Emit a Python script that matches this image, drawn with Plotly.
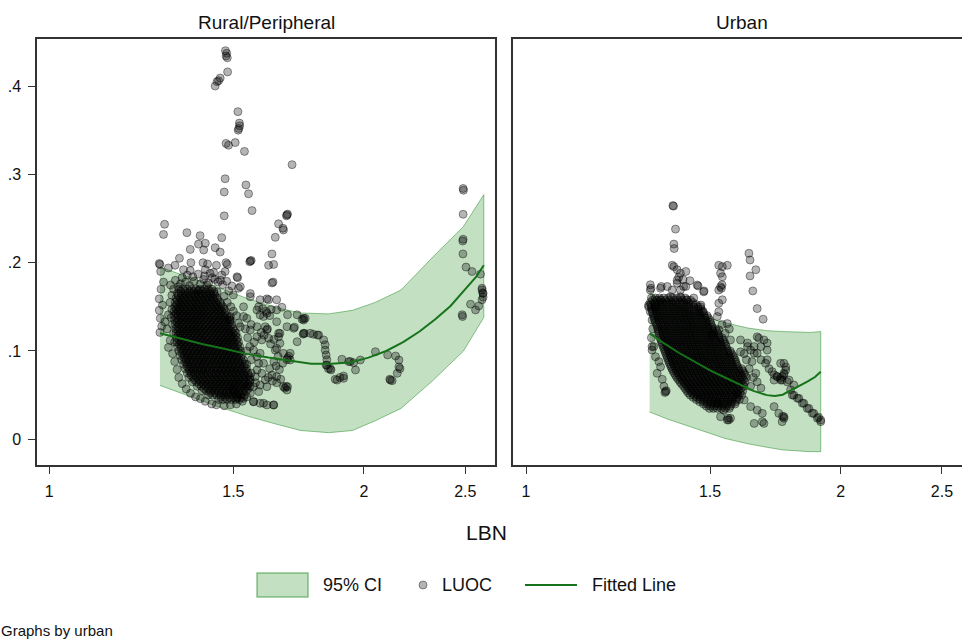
import plotly.graph_objects as go

W, H = 962, 642
FONT = "Liberation Sans, Arial, sans-serif"

# ---------------- data ----------------
x_tick_vals = [1, 1.5, 2, 2.5]
x_tick_text = ["1", "1.5", "2", "2.5"]
y_tick_vals = [0, 0.1, 0.2, 0.3, 0.4]
y_tick_text = ["0", ".1", ".2", ".3", ".4"]
panel_titles = ["Rural/Peripheral", "Urban"]
legend_labels = ["95% CI", "LUOC", "Fitted Line"]

# Rural / Peripheral: 95% CI band and fitted line
rural_band_lbn = [1.276, 1.35, 1.45, 1.55, 1.65, 1.74, 1.85, 1.95, 2.05, 2.17, 2.33, 2.49, 2.604]
rural_band_upper = [0.195, 0.185, 0.172, 0.159, 0.149, 0.143, 0.142, 0.146, 0.155, 0.169, 0.207, 0.241, 0.277]
rural_band_lower = [0.061, 0.050, 0.037, 0.026, 0.017, 0.010, 0.0075, 0.010, 0.021, 0.035, 0.067, 0.100, 0.138]
rural_fit_lbn = [1.276, 1.33, 1.40, 1.47, 1.54, 1.62, 1.70, 1.78, 1.86, 1.94, 2.02, 2.10, 2.18, 2.26, 2.34, 2.42, 2.50, 2.56, 2.604]
rural_fit_luoc = [0.120, 0.1145, 0.108, 0.1025, 0.097, 0.0925, 0.0885, 0.0855, 0.0855, 0.087, 0.0925, 0.100, 0.110, 0.122, 0.136, 0.151, 0.170, 0.184, 0.197]

# Urban: 95% CI band and fitted line
urban_band_lbn = [1.313, 1.365, 1.42, 1.47, 1.55, 1.63, 1.70, 1.76, 1.82, 1.87, 1.914]
urban_band_upper = [0.165, 0.156, 0.147, 0.140, 0.132, 0.126, 0.123, 0.122, 0.121, 0.121, 0.122]
urban_band_lower = [0.031, 0.023, 0.016, 0.010, 0.001, -0.005, -0.009, -0.012, -0.013, -0.014, -0.014]
urban_fit_lbn = [1.313, 1.35, 1.40, 1.45, 1.50, 1.55, 1.60, 1.65, 1.70, 1.73, 1.76, 1.79, 1.83, 1.86, 1.89, 1.914]
urban_fit_luoc = [0.120, 0.110, 0.098, 0.0875, 0.078, 0.070, 0.0625, 0.0548, 0.0500, 0.0490, 0.0505, 0.0550, 0.0610, 0.0655, 0.0705, 0.0766]

# Rural / Peripheral LUOC points (LBN, LUOC) - scattered points
rural_sparse = [
    (1.474, 0.440), (1.478, 0.437), (1.476, 0.434), (1.480, 0.432), (1.481, 0.416),
    (1.457, 0.409), (1.452, 0.406), (1.447, 0.405), (1.441, 0.400), (1.515, 0.371),
    (1.520, 0.358), (1.521, 0.355), (1.518, 0.352), (1.516, 0.350),
    (1.476, 0.335), (1.484, 0.333), (1.506, 0.336), (1.537, 0.326), (1.707, 0.311),
    (1.473, 0.295), (1.542, 0.288), (1.470, 0.280), (1.551, 0.278), (1.563, 0.259), (1.470, 0.253),
    (1.688, 0.254), (1.686, 0.253), (1.690, 0.255), (1.657, 0.244), (1.673, 0.239), (1.675, 0.237),
    (1.289, 0.2435), (1.286, 0.232), (1.354, 0.234), (1.394, 0.2306), (1.462, 0.2283), (1.645, 0.2287),
    (1.389, 0.221), (1.410, 0.222), (1.364, 0.215), (1.405, 0.2144), (1.441, 0.217), (1.457, 0.212),
    (1.633, 0.2099), (1.557, 0.2019), (1.560, 0.2025), (1.555, 0.201), (1.332, 0.205), (1.319, 0.197),
    (1.366, 0.200), (1.300, 0.194), (1.276, 0.198), (1.403, 0.200), (1.417, 0.1985), (1.445, 0.197),
    (1.476, 0.200), (1.480, 0.198), (1.621, 0.197), (1.639, 0.198), (1.344, 0.192), (1.364, 0.191),
    (1.410, 0.192), (1.436, 0.189), (1.462, 0.186), (1.473, 0.190), (1.514, 0.183), (1.512, 0.184),
    (1.633, 0.177), (1.637, 0.178), (1.495, 0.1736), (1.523, 0.1728), (1.615, 0.159), (1.650, 0.158),
    (1.621, 0.158), (1.669, 0.1495), (1.690, 0.141),
    (1.306, 0.1747), (1.329, 0.1728), (1.389, 0.169), (1.415, 0.1747), (1.447, 0.167), (1.500, 0.1634),
    (1.517, 0.171), (1.557, 0.1615), (1.591, 0.158), (1.534, 0.150), (1.580, 0.1465), (1.615, 0.1427),
    (1.650, 0.1465), (1.726, 0.141), (1.757, 0.137),
    (1.274, 0.199), (1.278, 0.190), (1.286, 0.178), (1.279, 0.170), (1.274, 0.159), (1.283, 0.152),
    (1.274, 0.146), (1.277, 0.137), (1.281, 0.128), (1.276, 0.121), (1.290, 0.133), (1.300, 0.141),
    (1.296, 0.125), (1.305, 0.112), (1.300, 0.104), (1.312, 0.097), (1.318, 0.088), (1.325, 0.079),
    (1.330, 0.070), (1.340, 0.063), (1.352, 0.057), (1.365, 0.052), (1.380, 0.048), (1.395, 0.046),
    (1.410, 0.043), (1.430, 0.040), (1.445, 0.039), (1.470, 0.038), (1.490, 0.039), (1.510, 0.040),
    (1.530, 0.043), (1.545, 0.048),
    (1.335, 0.176), (1.350, 0.178), (1.362, 0.174), (1.376, 0.179), (1.395, 0.176), (1.405, 0.181),
    (1.420, 0.177), (1.432, 0.183), (1.450, 0.178), (1.465, 0.175), (1.340, 0.183), (1.355, 0.186),
    (1.372, 0.184), (1.388, 0.187), (1.408, 0.185), (1.425, 0.188), (1.440, 0.181), (1.458, 0.180),
    (1.478, 0.179), (1.485, 0.168), (1.470, 0.162), (1.480, 0.155), (1.492, 0.150), (1.500, 0.145),
    (1.510, 0.140), (1.320, 0.180), (1.315, 0.170), (1.310, 0.163), (1.305, 0.155), (1.310, 0.147),
    (1.308, 0.138), (1.312, 0.130), (1.315, 0.120), (1.318, 0.110),
    (1.490, 0.1389), (1.517, 0.1314), (1.545, 0.137), (1.557, 0.1238), (1.591, 0.1408), (1.580, 0.1162),
    (1.609, 0.1275), (1.621, 0.1144), (1.650, 0.1332), (1.657, 0.120), (1.662, 0.1087), (1.688, 0.1275),
    (1.713, 0.1257), (1.751, 0.137), (1.751, 0.120), (1.726, 0.1105), (1.675, 0.0974), (1.700, 0.0898),
    (1.591, 0.0974), (1.603, 0.086), (1.580, 0.0785), (1.557, 0.0672), (1.591, 0.0615), (1.615, 0.0596),
    (1.650, 0.0709), (1.675, 0.0596), (1.688, 0.0558), (1.557, 0.0521), (1.534, 0.0464), (1.568, 0.0426),
    (1.603, 0.0408), (1.639, 0.0389), (1.633, 0.0728), (1.500, 0.0558), (1.512, 0.0464),
    (1.568, 0.101), (1.580, 0.0935), (1.586, 0.086), (1.574, 0.0709), (1.597, 0.0747), (1.609, 0.0672),
    (1.568, 0.0596), (1.586, 0.054), (1.557, 0.165), (1.586, 0.150), (1.603, 0.139), (1.580, 0.1275),
    (1.615, 0.1238), (1.597, 0.1125), (1.534, 0.139), (1.523, 0.1275), (1.490, 0.135),
    (1.639, 0.0389), (1.615, 0.0389), (1.591, 0.0408), (1.568, 0.0426),
    (1.600, 0.148), (1.612, 0.145), (1.625, 0.140), (1.630, 0.147), (1.595, 0.121), (1.605, 0.118),
    (1.617, 0.125), (1.640, 0.113), (1.628, 0.108), (1.645, 0.101), (1.655, 0.094), (1.640, 0.088),
    (1.625, 0.080), (1.648, 0.083), (1.660, 0.079), (1.672, 0.086), (1.665, 0.068), (1.650, 0.064),
    (1.635, 0.066), (1.620, 0.070), (1.545, 0.060), (1.575, 0.064), (1.560, 0.090), (1.570, 0.110),
    (1.555, 0.105), (1.548, 0.115), (1.540, 0.125), (1.560, 0.130), (1.545, 0.100), (1.545, 0.085),
    (1.560, 0.075),
    (1.700, 0.0974), (1.690, 0.092), (1.695, 0.094), (1.688, 0.090), (1.680, 0.058), (1.690, 0.0595),
    (1.685, 0.060), (1.662, 0.120), (1.657, 0.116), (1.650, 0.103),
    (1.745, 0.136), (1.716, 0.127), (1.751, 0.135), (1.749, 0.119), (1.776, 0.120), (1.805, 0.118),
    (1.754, 0.120), (1.789, 0.119), (1.810, 0.118),
    (1.830, 0.1125), (1.836, 0.107), (1.836, 0.101), (1.840, 0.0955), (1.843, 0.090), (1.840, 0.084),
    (1.849, 0.080), (1.860, 0.0785), (1.857, 0.080), (1.843, 0.084),
    (1.877, 0.068), (1.885, 0.067), (1.897, 0.070), (1.912, 0.0717), (1.912, 0.069),
    (1.905, 0.0906), (1.934, 0.088), (1.955, 0.0868), (1.984, 0.0898), (1.963, 0.0785), (1.941, 0.088),
    (2.051, 0.0992), (2.107, 0.0955), (2.144, 0.0943), (2.160, 0.0898), (2.165, 0.080), (2.152, 0.0747),
    (2.117, 0.068), (2.120, 0.067), (2.128, 0.0664), (2.160, 0.082),
    (2.483, 0.141), (2.485, 0.139), (2.529, 0.153), (2.557, 0.1465), (2.575, 0.151), (2.594, 0.158),
    (2.600, 0.165), (2.594, 0.169), (2.488, 0.284), (2.490, 0.282), (2.488, 0.2548), (2.488, 0.2265),
    (2.486, 0.2245), (2.487, 0.2099), (2.504, 0.195), (2.537, 0.190), (2.585, 0.187), (2.594, 0.171),
    (2.600, 0.161), (2.598, 0.166),
]

# Rural / Peripheral LUOC points - dense cluster, rows of (LUOC, [LBN ...])
rural_dense_rows = [
    (0.170, [1.330, 1.342, 1.356, 1.368, 1.381, 1.393, 1.407, 1.419, 1.431]),
    (0.165, [1.326, 1.337, 1.350, 1.362, 1.375, 1.388, 1.400, 1.413, 1.425, 1.438]),
    (0.160, [1.322, 1.334, 1.346, 1.359, 1.371, 1.383, 1.396, 1.409, 1.421, 1.434, 1.447]),
    (0.155, [1.320, 1.331, 1.343, 1.355, 1.368, 1.380, 1.392, 1.405, 1.417, 1.430, 1.443, 1.457]),
    (0.150, [1.318, 1.329, 1.341, 1.353, 1.365, 1.377, 1.389, 1.402, 1.414, 1.427, 1.440, 1.453, 1.466]),
    (0.145, [1.316, 1.327, 1.339, 1.351, 1.363, 1.375, 1.387, 1.399, 1.411, 1.424, 1.437, 1.450, 1.462, 1.474]),
    (0.140, [1.317, 1.328, 1.340, 1.352, 1.364, 1.376, 1.388, 1.400, 1.413, 1.426, 1.439, 1.452, 1.465, 1.478]),
    (0.135, [1.318, 1.330, 1.342, 1.354, 1.366, 1.378, 1.390, 1.402, 1.415, 1.428, 1.441, 1.454, 1.467, 1.480, 1.489]),
    (0.130, [1.320, 1.331, 1.343, 1.355, 1.367, 1.379, 1.391, 1.404, 1.417, 1.430, 1.443, 1.456, 1.469, 1.482, 1.494]),
    (0.125, [1.321, 1.333, 1.345, 1.357, 1.369, 1.381, 1.393, 1.406, 1.419, 1.432, 1.445, 1.458, 1.471, 1.484, 1.498]),
    (0.120, [1.322, 1.334, 1.346, 1.358, 1.370, 1.383, 1.395, 1.408, 1.421, 1.434, 1.447, 1.460, 1.473, 1.486, 1.499, 1.509]),
    (0.115, [1.323, 1.335, 1.347, 1.360, 1.372, 1.385, 1.397, 1.410, 1.423, 1.436, 1.449, 1.462, 1.475, 1.488, 1.501, 1.514]),
    (0.110, [1.325, 1.337, 1.349, 1.362, 1.374, 1.387, 1.399, 1.412, 1.425, 1.438, 1.451, 1.464, 1.477, 1.490, 1.503, 1.517]),
    (0.105, [1.326, 1.338, 1.351, 1.363, 1.376, 1.389, 1.401, 1.414, 1.427, 1.440, 1.453, 1.466, 1.479, 1.492, 1.506, 1.521]),
    (0.100, [1.330, 1.342, 1.354, 1.367, 1.379, 1.392, 1.404, 1.417, 1.430, 1.443, 1.456, 1.469, 1.482, 1.495, 1.509, 1.524]),
    (0.095, [1.334, 1.346, 1.358, 1.371, 1.383, 1.396, 1.408, 1.421, 1.434, 1.447, 1.460, 1.473, 1.486, 1.499, 1.513, 1.528]),
    (0.090, [1.339, 1.351, 1.363, 1.375, 1.388, 1.400, 1.413, 1.426, 1.439, 1.452, 1.465, 1.478, 1.491, 1.504, 1.518, 1.533]),
    (0.085, [1.344, 1.356, 1.368, 1.380, 1.393, 1.405, 1.418, 1.431, 1.444, 1.457, 1.470, 1.483, 1.496, 1.509, 1.523, 1.538]),
    (0.080, [1.349, 1.361, 1.373, 1.386, 1.398, 1.411, 1.424, 1.437, 1.450, 1.463, 1.476, 1.489, 1.502, 1.515, 1.529, 1.544]),
    (0.075, [1.355, 1.367, 1.379, 1.392, 1.404, 1.417, 1.430, 1.443, 1.456, 1.469, 1.482, 1.495, 1.508, 1.521, 1.535, 1.549]),
    (0.070, [1.360, 1.373, 1.386, 1.399, 1.412, 1.425, 1.438, 1.451, 1.464, 1.477, 1.490, 1.503, 1.516, 1.529, 1.543, 1.556]),
    (0.065, [1.370, 1.383, 1.396, 1.409, 1.422, 1.435, 1.448, 1.461, 1.474, 1.487, 1.500, 1.513, 1.526, 1.540, 1.555]),
    (0.060, [1.385, 1.398, 1.411, 1.424, 1.437, 1.450, 1.463, 1.476, 1.489, 1.502, 1.515, 1.528, 1.542, 1.556]),
    (0.055, [1.400, 1.413, 1.426, 1.439, 1.452, 1.465, 1.478, 1.491, 1.504, 1.517, 1.530, 1.544]),
    (0.050, [1.420, 1.433, 1.446, 1.459, 1.472, 1.485, 1.498, 1.511, 1.524, 1.537]),
    (0.045, [1.452, 1.466, 1.480, 1.494, 1.508, 1.520]),
    (0.1675, [1.336, 1.349, 1.362, 1.375, 1.387, 1.400, 1.413, 1.425, 1.437]),
    (0.1625, [1.328, 1.340, 1.352, 1.365, 1.377, 1.390, 1.402, 1.415, 1.428, 1.441]),
    (0.1575, [1.326, 1.337, 1.349, 1.362, 1.374, 1.386, 1.399, 1.411, 1.424, 1.437, 1.450]),
    (0.1525, [1.324, 1.335, 1.347, 1.359, 1.371, 1.383, 1.396, 1.408, 1.421, 1.434, 1.447, 1.460]),
    (0.1475, [1.322, 1.333, 1.345, 1.357, 1.369, 1.381, 1.393, 1.405, 1.418, 1.431, 1.444, 1.457, 1.470]),
    (0.1425, [1.322, 1.334, 1.346, 1.358, 1.370, 1.382, 1.394, 1.406, 1.419, 1.432, 1.445, 1.458, 1.471]),
    (0.1375, [1.324, 1.336, 1.348, 1.360, 1.372, 1.384, 1.396, 1.408, 1.421, 1.434, 1.447, 1.460, 1.473, 1.485]),
    (0.1325, [1.325, 1.337, 1.349, 1.361, 1.373, 1.385, 1.397, 1.410, 1.423, 1.436, 1.449, 1.462, 1.475, 1.488]),
    (0.1275, [1.327, 1.339, 1.351, 1.363, 1.375, 1.387, 1.399, 1.412, 1.425, 1.438, 1.451, 1.464, 1.477, 1.490]),
    (0.1225, [1.328, 1.340, 1.352, 1.364, 1.376, 1.389, 1.401, 1.414, 1.427, 1.440, 1.453, 1.466, 1.479, 1.492, 1.504]),
    (0.1175, [1.329, 1.341, 1.353, 1.366, 1.378, 1.391, 1.403, 1.416, 1.429, 1.442, 1.455, 1.468, 1.481, 1.494, 1.507]),
    (0.1125, [1.331, 1.343, 1.355, 1.368, 1.380, 1.393, 1.405, 1.418, 1.431, 1.444, 1.457, 1.470, 1.483, 1.496, 1.510]),
    (0.1075, [1.332, 1.344, 1.357, 1.369, 1.382, 1.395, 1.407, 1.420, 1.433, 1.446, 1.459, 1.472, 1.485, 1.499, 1.513]),
    (0.1025, [1.336, 1.348, 1.360, 1.373, 1.385, 1.398, 1.410, 1.423, 1.436, 1.449, 1.462, 1.475, 1.488, 1.502, 1.516]),
    (0.0975, [1.340, 1.352, 1.364, 1.377, 1.389, 1.402, 1.414, 1.427, 1.440, 1.453, 1.466, 1.479, 1.492, 1.506, 1.520]),
    (0.0925, [1.345, 1.357, 1.369, 1.381, 1.394, 1.406, 1.419, 1.432, 1.445, 1.458, 1.471, 1.484, 1.497, 1.511, 1.525]),
    (0.0875, [1.350, 1.362, 1.374, 1.386, 1.399, 1.411, 1.424, 1.437, 1.450, 1.463, 1.476, 1.489, 1.502, 1.516, 1.530]),
    (0.0825, [1.355, 1.367, 1.379, 1.392, 1.404, 1.417, 1.430, 1.443, 1.456, 1.469, 1.482, 1.495, 1.508, 1.522, 1.536]),
    (0.0775, [1.361, 1.373, 1.386, 1.398, 1.410, 1.423, 1.436, 1.449, 1.462, 1.475, 1.488, 1.501, 1.514, 1.528, 1.542]),
    (0.0725, [1.366, 1.379, 1.392, 1.405, 1.418, 1.431, 1.444, 1.457, 1.470, 1.483, 1.496, 1.509, 1.522, 1.536, 1.550]),
    (0.0675, [1.376, 1.389, 1.402, 1.415, 1.428, 1.441, 1.454, 1.467, 1.480, 1.493, 1.506, 1.519, 1.533, 1.548]),
    (0.0625, [1.391, 1.404, 1.417, 1.430, 1.443, 1.456, 1.469, 1.482, 1.495, 1.508, 1.521, 1.535, 1.549]),
    (0.0575, [1.406, 1.419, 1.432, 1.445, 1.458, 1.471, 1.484, 1.497, 1.510, 1.523, 1.537, 1.550]),
    (0.0525, [1.426, 1.439, 1.452, 1.465, 1.478, 1.491, 1.504, 1.517, 1.530]),
    (0.0475, [1.459, 1.473, 1.487, 1.501, 1.514, 1.527]),
]

# Urban LUOC points (LBN, LUOC) - scattered points
urban_sparse = [
    (1.382, 0.2646), (1.384, 0.2640), (1.390, 0.238), (1.385, 0.221), (1.386, 0.216), (1.380, 0.197),
    (1.395, 0.192), (1.422, 0.190), (1.400, 0.1835), (1.395, 0.180), (1.435, 0.1796), (1.461, 0.1736),
    (1.480, 0.168), (1.415, 0.173), (1.405, 0.169), (1.385, 0.1955), (1.405, 0.188), (1.413, 0.181),
    (1.395, 0.1767), (1.422, 0.173), (1.458, 0.1747), (1.479, 0.167),
    (1.529, 0.197), (1.541, 0.1955), (1.558, 0.197), (1.535, 0.188), (1.541, 0.184), (1.535, 0.1728),
    (1.529, 0.169), (1.541, 0.158), (1.529, 0.154), (1.529, 0.1445), (1.538, 0.171), (1.540, 0.175),
    (1.634, 0.2106), (1.638, 0.203), (1.659, 0.192), (1.638, 0.185), (1.648, 0.168), (1.664, 0.148),
    (1.686, 0.136),
    (1.315, 0.175), (1.317, 0.171), (1.315, 0.169), (1.345, 0.171), (1.347, 0.173), (1.365, 0.173),
    (1.380, 0.169), (1.310, 0.152), (1.330, 0.150), (1.345, 0.158), (1.375, 0.1615), (1.405, 0.1615),
    (1.426, 0.158), (1.447, 0.160), (1.469, 0.150), (1.475, 0.1445), (1.470, 0.152),
    (1.310, 0.150), (1.315, 0.1445), (1.320, 0.135), (1.325, 0.105), (1.320, 0.101), (1.318, 0.115),
    (1.322, 0.125), (1.320, 0.105), (1.330, 0.0935), (1.345, 0.082), (1.335, 0.0747), (1.355, 0.060),
    (1.360, 0.054), (1.362, 0.055), (1.358, 0.053), (1.350, 0.068), (1.340, 0.088),
    (1.524, 0.139), (1.558, 0.131), (1.529, 0.124), (1.551, 0.120), (1.507, 0.118), (1.569, 0.1125),
    (1.540, 0.130), (1.565, 0.125),
    (1.604, 0.1125), (1.629, 0.105), (1.653, 0.0974), (1.678, 0.090), (1.695, 0.086), (1.708, 0.080),
    (1.604, 0.099), (1.617, 0.097), (1.640, 0.101), (1.664, 0.116), (1.689, 0.1125), (1.701, 0.109),
    (1.678, 0.105), (1.629, 0.109), (1.653, 0.105), (1.670, 0.1144), (1.701, 0.101), (1.664, 0.0974),
    (1.701, 0.090),
    (1.720, 0.0766), (1.739, 0.071), (1.752, 0.067), (1.765, 0.0747), (1.778, 0.065), (1.791, 0.056),
    (1.804, 0.050), (1.824, 0.0464), (1.844, 0.0408), (1.865, 0.035), (1.885, 0.0294), (1.914, 0.0219),
    (1.905, 0.025), (1.798, 0.050), (1.818, 0.0464), (1.838, 0.0408), (1.858, 0.035), (1.879, 0.0294),
    (1.900, 0.0238), (1.914, 0.020),
    (1.752, 0.086), (1.772, 0.082), (1.758, 0.071), (1.765, 0.086), (1.772, 0.0785), (1.739, 0.071),
    (1.758, 0.067), (1.727, 0.067), (1.727, 0.073), (1.752, 0.069), (1.765, 0.073), (1.785, 0.067),
    (1.804, 0.0615),
    (1.592, 0.052), (1.617, 0.0445), (1.640, 0.037), (1.664, 0.033), (1.683, 0.0294), (1.689, 0.018),
    (1.683, 0.020), (1.653, 0.018),
    (1.524, 0.0408), (1.546, 0.033), (1.563, 0.0219), (1.560, 0.024), (1.535, 0.0256), (1.558, 0.0219),
    (1.569, 0.0238),
    (1.727, 0.037), (1.745, 0.0294), (1.765, 0.0238), (1.760, 0.026), (1.765, 0.0256), (1.758, 0.020),
    (1.659, 0.0747), (1.664, 0.065), (1.640, 0.060), (1.678, 0.058), (1.650, 0.070), (1.635, 0.080),
    (1.645, 0.088), (1.625, 0.090),
]

# Urban LUOC points - dense cluster, rows of (LUOC, [LBN ...])
urban_dense_rows = [
    (0.160, [1.318, 1.330, 1.342, 1.355, 1.368, 1.381, 1.394, 1.407, 1.420]),
    (0.155, [1.315, 1.327, 1.339, 1.351, 1.364, 1.377, 1.390, 1.403, 1.416, 1.430, 1.444]),
    (0.150, [1.318, 1.330, 1.342, 1.354, 1.367, 1.380, 1.393, 1.406, 1.419, 1.432, 1.446, 1.460]),
    (0.145, [1.320, 1.332, 1.344, 1.357, 1.370, 1.383, 1.396, 1.409, 1.422, 1.435, 1.449, 1.463, 1.477]),
    (0.140, [1.324, 1.336, 1.348, 1.361, 1.374, 1.387, 1.400, 1.413, 1.426, 1.439, 1.453, 1.467, 1.481, 1.490]),
    (0.135, [1.328, 1.340, 1.352, 1.365, 1.378, 1.391, 1.404, 1.417, 1.430, 1.443, 1.457, 1.471, 1.485, 1.499]),
    (0.130, [1.333, 1.345, 1.357, 1.370, 1.383, 1.396, 1.409, 1.422, 1.435, 1.448, 1.462, 1.476, 1.490, 1.504]),
    (0.125, [1.337, 1.349, 1.361, 1.374, 1.387, 1.400, 1.413, 1.426, 1.439, 1.452, 1.466, 1.480, 1.494, 1.508, 1.518]),
    (0.120, [1.340, 1.352, 1.364, 1.377, 1.390, 1.403, 1.416, 1.429, 1.442, 1.455, 1.469, 1.483, 1.497, 1.511, 1.526]),
    (0.115, [1.344, 1.356, 1.368, 1.381, 1.394, 1.407, 1.420, 1.433, 1.446, 1.459, 1.473, 1.487, 1.501, 1.515, 1.530, 1.540]),
    (0.110, [1.348, 1.360, 1.372, 1.385, 1.398, 1.411, 1.424, 1.437, 1.450, 1.463, 1.477, 1.491, 1.505, 1.519, 1.534, 1.548]),
    (0.105, [1.353, 1.365, 1.377, 1.390, 1.403, 1.416, 1.429, 1.442, 1.455, 1.468, 1.482, 1.496, 1.510, 1.524, 1.539, 1.554]),
    (0.100, [1.358, 1.370, 1.382, 1.395, 1.408, 1.421, 1.434, 1.447, 1.460, 1.473, 1.487, 1.501, 1.515, 1.529, 1.544, 1.559, 1.568]),
    (0.095, [1.363, 1.375, 1.387, 1.400, 1.413, 1.426, 1.439, 1.452, 1.465, 1.478, 1.492, 1.506, 1.520, 1.534, 1.549, 1.564, 1.577]),
    (0.090, [1.368, 1.380, 1.392, 1.405, 1.418, 1.431, 1.444, 1.457, 1.470, 1.483, 1.497, 1.511, 1.525, 1.539, 1.554, 1.569, 1.585]),
    (0.085, [1.373, 1.385, 1.397, 1.410, 1.423, 1.436, 1.449, 1.462, 1.475, 1.488, 1.502, 1.516, 1.530, 1.544, 1.559, 1.574, 1.590]),
    (0.080, [1.379, 1.391, 1.403, 1.416, 1.429, 1.442, 1.455, 1.468, 1.481, 1.494, 1.508, 1.522, 1.536, 1.550, 1.565, 1.580, 1.596, 1.608]),
    (0.075, [1.386, 1.398, 1.410, 1.423, 1.436, 1.449, 1.462, 1.475, 1.488, 1.501, 1.515, 1.529, 1.543, 1.557, 1.572, 1.587, 1.602, 1.617]),
    (0.070, [1.394, 1.406, 1.418, 1.431, 1.444, 1.457, 1.470, 1.483, 1.496, 1.509, 1.523, 1.537, 1.551, 1.565, 1.580, 1.595, 1.610, 1.625]),
    (0.065, [1.404, 1.416, 1.428, 1.441, 1.454, 1.467, 1.480, 1.493, 1.506, 1.519, 1.533, 1.547, 1.561, 1.575, 1.590, 1.605, 1.620]),
    (0.060, [1.415, 1.427, 1.439, 1.452, 1.465, 1.478, 1.491, 1.504, 1.517, 1.530, 1.544, 1.558, 1.572, 1.586, 1.601, 1.616]),
    (0.055, [1.425, 1.437, 1.449, 1.462, 1.475, 1.488, 1.501, 1.514, 1.527, 1.540, 1.554, 1.568, 1.582, 1.597, 1.612]),
    (0.050, [1.436, 1.448, 1.460, 1.473, 1.486, 1.499, 1.512, 1.525, 1.538, 1.552, 1.566, 1.580, 1.595, 1.608]),
    (0.045, [1.455, 1.467, 1.480, 1.493, 1.506, 1.519, 1.532, 1.546, 1.560, 1.574, 1.589, 1.600]),
    (0.040, [1.478, 1.491, 1.504, 1.517, 1.530, 1.544, 1.558, 1.572, 1.585]),
    (0.035, [1.498, 1.511, 1.524, 1.538, 1.552, 1.565]),
    (0.1575, [1.321, 1.333, 1.345, 1.358, 1.371, 1.384, 1.397, 1.410, 1.423, 1.437]),
    (0.1525, [1.316, 1.328, 1.340, 1.352, 1.365, 1.378, 1.391, 1.404, 1.417, 1.430, 1.444, 1.455]),
    (0.1475, [1.319, 1.331, 1.343, 1.355, 1.368, 1.381, 1.394, 1.407, 1.420, 1.433, 1.447, 1.461, 1.470]),
    (0.1425, [1.322, 1.334, 1.346, 1.359, 1.372, 1.385, 1.398, 1.411, 1.424, 1.437, 1.451, 1.465, 1.479]),
    (0.1375, [1.326, 1.338, 1.350, 1.363, 1.376, 1.389, 1.402, 1.415, 1.428, 1.441, 1.455, 1.469, 1.483, 1.494]),
    (0.1325, [1.330, 1.342, 1.354, 1.367, 1.380, 1.393, 1.406, 1.419, 1.432, 1.445, 1.459, 1.473, 1.487, 1.501]),
    (0.1275, [1.335, 1.347, 1.359, 1.372, 1.385, 1.398, 1.411, 1.424, 1.437, 1.450, 1.464, 1.478, 1.492, 1.506]),
    (0.1225, [1.338, 1.350, 1.362, 1.375, 1.388, 1.401, 1.414, 1.427, 1.440, 1.453, 1.467, 1.481, 1.495, 1.509, 1.522]),
    (0.1175, [1.342, 1.354, 1.366, 1.379, 1.392, 1.405, 1.418, 1.431, 1.444, 1.457, 1.471, 1.485, 1.499, 1.513, 1.528]),
    (0.1125, [1.346, 1.358, 1.370, 1.383, 1.396, 1.409, 1.422, 1.435, 1.448, 1.461, 1.475, 1.489, 1.503, 1.517, 1.532, 1.544]),
    (0.1075, [1.350, 1.362, 1.374, 1.387, 1.400, 1.413, 1.426, 1.439, 1.452, 1.465, 1.479, 1.493, 1.507, 1.521, 1.536, 1.551]),
    (0.1025, [1.355, 1.367, 1.379, 1.392, 1.405, 1.418, 1.431, 1.444, 1.457, 1.470, 1.484, 1.498, 1.512, 1.526, 1.541, 1.556]),
    (0.0975, [1.360, 1.372, 1.384, 1.397, 1.410, 1.423, 1.436, 1.449, 1.462, 1.475, 1.489, 1.503, 1.517, 1.531, 1.546, 1.561, 1.572]),
    (0.0925, [1.365, 1.377, 1.389, 1.402, 1.415, 1.428, 1.441, 1.454, 1.467, 1.480, 1.494, 1.508, 1.522, 1.536, 1.551, 1.566, 1.581]),
    (0.0875, [1.370, 1.382, 1.394, 1.407, 1.420, 1.433, 1.446, 1.459, 1.472, 1.485, 1.499, 1.513, 1.527, 1.541, 1.556, 1.571, 1.587]),
    (0.0825, [1.376, 1.388, 1.400, 1.413, 1.426, 1.439, 1.452, 1.465, 1.478, 1.491, 1.505, 1.519, 1.533, 1.547, 1.562, 1.577, 1.593]),
    (0.0775, [1.382, 1.394, 1.406, 1.419, 1.432, 1.445, 1.458, 1.471, 1.484, 1.497, 1.511, 1.525, 1.539, 1.553, 1.568, 1.583, 1.599, 1.612]),
    (0.0725, [1.390, 1.402, 1.414, 1.427, 1.440, 1.453, 1.466, 1.479, 1.492, 1.505, 1.519, 1.533, 1.547, 1.561, 1.576, 1.591, 1.606, 1.621]),
    (0.0675, [1.399, 1.411, 1.423, 1.436, 1.449, 1.462, 1.475, 1.488, 1.501, 1.514, 1.528, 1.542, 1.556, 1.570, 1.585, 1.600, 1.615]),
    (0.0625, [1.409, 1.421, 1.433, 1.446, 1.459, 1.472, 1.485, 1.498, 1.511, 1.524, 1.538, 1.552, 1.566, 1.580, 1.595, 1.610]),
    (0.0575, [1.420, 1.432, 1.444, 1.457, 1.470, 1.483, 1.496, 1.509, 1.522, 1.535, 1.549, 1.563, 1.577, 1.591, 1.606]),
    (0.0525, [1.430, 1.442, 1.454, 1.467, 1.480, 1.493, 1.506, 1.519, 1.532, 1.545, 1.559, 1.573, 1.588, 1.602]),
    (0.0475, [1.445, 1.457, 1.470, 1.483, 1.496, 1.509, 1.522, 1.535, 1.549, 1.563, 1.577, 1.592]),
    (0.0425, [1.466, 1.479, 1.492, 1.505, 1.518, 1.531, 1.545, 1.559, 1.573, 1.587]),
    (0.0375, [1.488, 1.501, 1.514, 1.527, 1.541, 1.555, 1.568]),
]


def collect(sparse, rows):
    xs = [p[0] for p in sparse]
    ys = [p[1] for p in sparse]
    for yv, row in rows:
        for xv in row:
            xs.append(xv)
            ys.append(yv)
    return xs, ys


rural_lbn, rural_luoc = collect(rural_sparse, rural_dense_rows)
urban_lbn, urban_luoc = collect(urban_sparse, urban_dense_rows)

# ---------------- styles ----------------
BAND_FILL = "rgba(34,139,34,0.27)"
BAND_EDGE = "rgba(34,139,34,0.50)"
FIT_COLOR = "#16731a"
PT_FILL = "rgba(0,0,0,0.29)"
PT_EDGE = "rgba(0,0,0,0.40)"
MARKER = dict(size=8, color=PT_FILL, line=dict(color=PT_EDGE, width=1))
AXIS_COLOR = "#333333"
TXT = "#111111"

fig = go.Figure()

panels = [
    ("x", "y", rural_band_lbn, rural_band_upper, rural_band_lower, rural_lbn, rural_luoc, rural_fit_lbn, rural_fit_luoc),
    ("x2", "y2", urban_band_lbn, urban_band_upper, urban_band_lower, urban_lbn, urban_luoc, urban_fit_lbn, urban_fit_luoc),
]
for xa, ya, blbn, bup, blo, plbn, pluoc, flbn, fluoc in panels:
    fig.add_trace(go.Scatter(
        x=blbn + blbn[::-1], y=bup + blo[::-1], fill="toself", fillcolor=BAND_FILL,
        mode="lines", line=dict(color=BAND_EDGE, width=1), name=legend_labels[0],
        showlegend=False, xaxis=xa, yaxis=ya, hoverinfo="skip"))
    fig.add_trace(go.Scatter(
        x=plbn, y=pluoc, mode="markers", marker=MARKER, name=legend_labels[1],
        showlegend=False, xaxis=xa, yaxis=ya))
    fig.add_trace(go.Scatter(
        x=flbn, y=fluoc, mode="lines", line=dict(color=FIT_COLOR, width=2), name=legend_labels[2],
        showlegend=False, xaxis=xa, yaxis=ya))

# ---------------- layout (positions in page pixels) ----------------
def px(v):
    return v / W


def py(v):
    return 1 - v / H


LEFT0, LEFT1, RIGHT0 = 37, 495, 513
TOP, BOTTOM = 39.3, 465
y_dom = [py(BOTTOM), py(TOP)]
y_range = [-0.0291, 0.4529]

xcommon = dict(type="log", showgrid=False, zeroline=False, showline=True, linecolor=AXIS_COLOR,
               linewidth=1.5, mirror=True, ticks="outside", ticklen=7, tickwidth=1.3,
               tickcolor=AXIS_COLOR, tickvals=x_tick_vals, ticktext=x_tick_text,
               tickfont=dict(size=16, color=TXT), ticklabelstandoff=4)

# legend drawn as shapes + text (Stata-style large key boxes)
LEG_Y = 585
shapes = [
    dict(type="rect", xref="paper", yref="paper", x0=px(257), x1=px(308), y0=py(597), y1=py(573),
         fillcolor=BAND_FILL, line=dict(color=BAND_EDGE, width=1.5)),
    dict(type="circle", xref="paper", yref="paper", x0=px(419), x1=px(427), y0=py(LEG_Y + 4), y1=py(LEG_Y - 4),
         fillcolor=PT_FILL, line=dict(color=PT_EDGE, width=1)),
    dict(type="line", xref="paper", yref="paper", x0=px(525), x1=px(577), y0=py(LEG_Y), y1=py(LEG_Y),
         line=dict(color=FIT_COLOR, width=2)),
]

annotations = [
    dict(text=panel_titles[0], x=px((LEFT0 + LEFT1) / 2), y=py(22), xanchor="center", yanchor="middle",
         font=dict(size=19, color=TXT)),
    dict(text=panel_titles[1], x=px(742), y=py(22), xanchor="center", yanchor="middle",
         font=dict(size=19, color=TXT)),
    dict(text="LBN", x=px(487), y=py(532), xanchor="center", yanchor="middle",
         font=dict(size=21, color=TXT)),
    dict(text=legend_labels[0], x=px(321), y=py(LEG_Y), xanchor="left", yanchor="middle",
         font=dict(size=18, color=TXT)),
    dict(text=legend_labels[1], x=px(440), y=py(LEG_Y), xanchor="left", yanchor="middle",
         font=dict(size=18, color=TXT)),
    dict(text=legend_labels[2], x=px(590), y=py(LEG_Y), xanchor="left", yanchor="middle",
         font=dict(size=18, color=TXT)),
    dict(text="Graphs by urban", x=0, y=py(630), xanchor="left", yanchor="middle", xshift=-1,
         font=dict(size=15, color=TXT)),
]
for a in annotations:
    a.update(xref="paper", yref="paper", showarrow=False)

fig.update_layout(
    width=W, height=H, autosize=False,
    margin=dict(l=0, r=0, t=0, b=0, pad=0),
    paper_bgcolor="white", plot_bgcolor="white",
    font=dict(family=FONT, color=TXT),
    showlegend=False,
    xaxis=dict(domain=[px(LEFT0), px(LEFT1)], range=[-0.011766, 0.42635], anchor="y", **xcommon),
    xaxis2=dict(domain=[px(RIGHT0), 1.0], range=[-0.012436, 0.41708], anchor="y2", **xcommon),
    yaxis=dict(domain=y_dom, range=y_range, anchor="x", showgrid=False, zeroline=False,
               showline=True, linecolor=AXIS_COLOR, linewidth=1.5, mirror=True,
               ticks="outside", ticklen=7, tickwidth=1.3, tickcolor=AXIS_COLOR,
               tickvals=y_tick_vals, ticktext=y_tick_text, tickfont=dict(size=16, color=TXT),
               ticklabelstandoff=4),
    yaxis2=dict(domain=y_dom, range=y_range, anchor="x2", showgrid=False, zeroline=False,
                showline=True, linecolor=AXIS_COLOR, linewidth=1.5, mirror=False,
                showticklabels=False, ticks=""),
    shapes=shapes,
    annotations=annotations,
)

fig.write_html(
    "out.html",
    config={"displayModeBar": False},
    post_script="document.body.style.margin='0';document.body.style.padding='0';",
)
